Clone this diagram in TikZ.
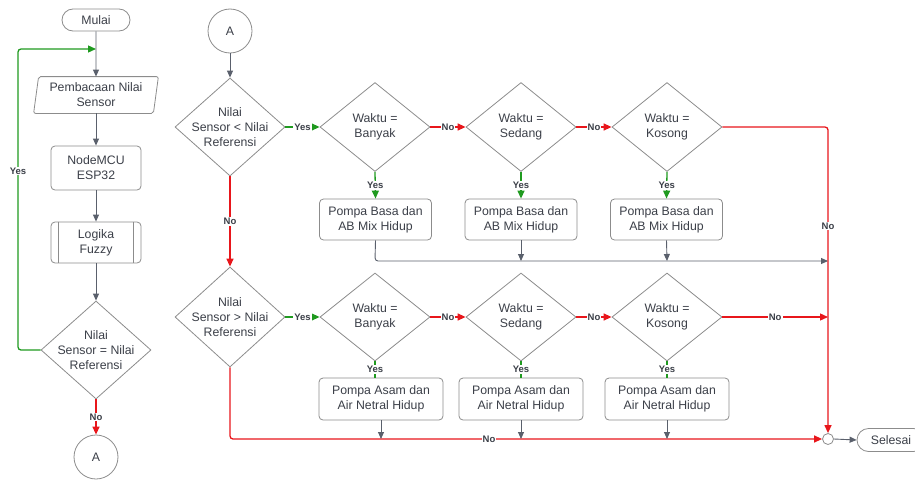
\documentclass[tikz,border=0pt]{standalone}
\usepackage{fontspec}
\setmainfont{Liberation Sans}
\usetikzlibrary{shapes.geometric,shapes.misc,arrows.meta}
\definecolor{bordergray}{HTML}{8C8C8C}
\definecolor{txt}{HTML}{3B3F48}
\definecolor{linegray}{HTML}{5A606C}
\definecolor{myred}{HTML}{E8161B}
\definecolor{mygreen}{HTML}{1F9A1F}
\begin{document}
\begin{tikzpicture}[x=1pt,y=-1pt,
  base/.style={draw=bordergray, line width=0.8pt, text=txt, font=\fontsize{12.3}{15}\selectfont, align=center},
  box/.style={base, rectangle, rounded corners=4pt, inner sep=0pt},
  term/.style={base, rounded rectangle, minimum width=68pt, minimum height=22pt, inner sep=0pt},
  dia/.style={base, diamond, inner sep=0pt, minimum width=110pt},
  dtext/.style={base, draw=none},
  circ/.style={base, circle, minimum size=44pt, inner sep=0pt},
  arr/.style={-{Triangle[length=7pt,width=6pt]}, line width=0.9pt, draw=linegray},
  redarr/.style={-{Triangle[length=8pt,width=7pt]}, line width=1.3pt, draw=myred},
  redline/.style={line width=1.3pt, draw=myred},
  grnarr/.style={-{Triangle[length=8pt,width=7pt]}, line width=1.3pt, draw=mygreen},
  grnline/.style={line width=1.3pt, draw=mygreen},
  lbl/.style={font=\fontsize{9.5}{10}\selectfont\bfseries, fill=white, inner sep=1pt, text=txt}
]
\useasboundingbox (0,0) rectangle (915,479);

% ---------- left column ----------
\node[term] (mulai) at (96,20) {Mulai};
\node[dtext, minimum width=119pt, minimum height=36pt, inner sep=0pt] (baca) at (96,95) {Pembacaan Nilai\\Sensor};
\draw[draw=bordergray, line width=0.8pt, rounded corners=2pt]
  ([xshift=-2.5pt]baca.south west) -- ([xshift=-2.5pt]baca.south east) --
  ([xshift=2.5pt]baca.north east) -- ([xshift=2.5pt]baca.north west) -- cycle;
\node[box, minimum width=90pt, minimum height=44pt] (mcu) at (96,168) {NodeMCU\\ESP32};
\node[box, minimum width=90pt, minimum height=41pt] (fuzzy) at (96,242.5) {Logika\\Fuzzy};
\draw[draw=bordergray, line width=0.8pt] ([xshift=8pt]fuzzy.north west) -- ([xshift=8pt]fuzzy.south west);
\draw[draw=bordergray, line width=0.8pt] ([xshift=-8pt]fuzzy.north east) -- ([xshift=-8pt]fuzzy.south east);
\node[dia, minimum height=98pt, label={[dtext]center:Nilai\\Sensor = Nilai\\Referensi}] (d0) at (96,350) {};
\node[circ] (a1) at (96,457) {A};

\coordinate (loopin) at (96,49);
\draw[arr] (mulai) -- (baca);
\draw[arr] (baca) -- (mcu);
\draw[arr] (mcu) -- (fuzzy);
\draw[arr] (fuzzy) -- (d0);
\draw[grnarr, rounded corners=3pt] (d0.west) -- (18,350) -- (18,49) -- (loopin);
\node[lbl] at (18,171) {Yes};
\draw[redarr] (d0.south) -- node[lbl] {No} (a1.north);

% ---------- right part ----------
\node[circ] (a2) at (230,31) {A};
\node[dia, minimum height=98pt, label={[dtext]center:Nilai\\Sensor < Nilai\\Referensi}] (d1) at (230,127) {};
\node[dia, minimum height=89pt, label={[dtext]center:Waktu =\\Banyak}] (w1) at (375,127) {};
\node[dia, minimum height=89pt, label={[dtext]center:Waktu =\\Sedang}] (w2) at (521,127) {};
\node[dia, minimum height=89pt, label={[dtext]center:Waktu =\\Kosong}] (w3) at (667,127) {};
\node[box, minimum width=112pt, minimum height=41pt] (b1) at (375.5,219.5) {Pompa Basa dan\\AB Mix Hidup};
\node[box, minimum width=112pt, minimum height=41pt] (b2) at (521,219.5) {Pompa Basa dan\\AB Mix Hidup};
\node[box, minimum width=112pt, minimum height=41pt] (b3) at (666.5,219.5) {Pompa Basa dan\\AB Mix Hidup};

\node[dia, minimum height=100pt, label={[dtext]center:Nilai\\Sensor > Nilai\\Referensi}] (d2) at (230,317) {};
\node[dia, minimum height=88pt, label={[dtext]center:Waktu =\\Banyak}] (w4) at (375,317) {};
\node[dia, minimum height=88pt, label={[dtext]center:Waktu =\\Sedang}] (w5) at (521,317) {};
\node[dia, minimum height=88pt, label={[dtext]center:Waktu =\\Kosong}] (w6) at (667,317) {};
\node[box, minimum width=124pt, minimum height=42pt] (b4) at (381,399) {Pompa Asam dan\\Air Netral Hidup};
\node[box, minimum width=124pt, minimum height=42pt] (b5) at (521,399) {Pompa Asam dan\\Air Netral Hidup};
\node[box, minimum width=124pt, minimum height=42pt] (b6) at (667,399) {Pompa Asam dan\\Air Netral Hidup};

\node[base, circle, minimum size=11pt, inner sep=0pt] (join) at (828,439) {};
\node[term, minimum height=23pt] (selesai) at (891,440) {Selesai};

\coordinate (r1) at (828,127);
\coordinate (r2) at (828,317);
\coordinate (g1) at (375,261);
\coordinate (g2) at (521,261);
\coordinate (g3) at (667,261);
\coordinate (g4) at (828,261);
\coordinate (h1) at (230,439);
\coordinate (h4) at (381,439);
\coordinate (h5) at (521,439);
\coordinate (h6) at (667,439);

% top row
\draw[arr] (a2) -- (d1);
\draw[grnarr] (d1.east) -- node[lbl] {Yes} (w1.west);
\draw[redarr] (w1.east) -- node[lbl] {No} (w2.west);
\draw[redarr] (w2.east) -- node[lbl] {No} (w3.west);
\draw[grnarr] (w1.south) -- node[lbl] {Yes} (b1.north);
\draw[grnarr] (w2.south) -- node[lbl] {Yes} (b2.north);
\draw[grnarr] (w3.south) -- node[lbl] {Yes} (b3.north);
\draw[arr, rounded corners=3pt] (b1.south) -- (g1) -- (g4);
\draw[arr] (b2.south) -- (g2);
\draw[arr] (b3.south) -- (g3);
\draw[redarr, rounded corners=3pt] (w3.east) -- (r1) -- (join.north);
\node[lbl] at (828,226) {No};
\draw[redarr] (d1.south) -- node[lbl] {No} (d2.north);

% bottom row
\draw[grnarr] (d2.east) -- node[lbl] {Yes} (w4.west);
\draw[redarr] (w4.east) -- node[lbl] {No} (w5.west);
\draw[redarr] (w5.east) -- node[lbl] {No} (w6.west);
\draw[redarr] (w6.east) -- node[lbl] {No} (r2);
\draw[grnline] (w4.south) -- node[lbl] {Yes} (w4.south |- b4.north);
\draw[grnline] (w5.south) -- node[lbl] {Yes} (b5.north);
\draw[grnline] (w6.south) -- node[lbl] {Yes} (b6.north);
\draw[redarr, rounded corners=3pt] (d2.south) -- (h1) -- (join.west);
\node[lbl] at (489,439) {No};
\draw[arr] (b4.south) -- (h4);
\draw[arr] (b5.south) -- (h5);
\draw[arr] (b6.south) -- (h6);
\draw[arr] (join.east) -- (selesai.west);
\end{tikzpicture}
\end{document}
